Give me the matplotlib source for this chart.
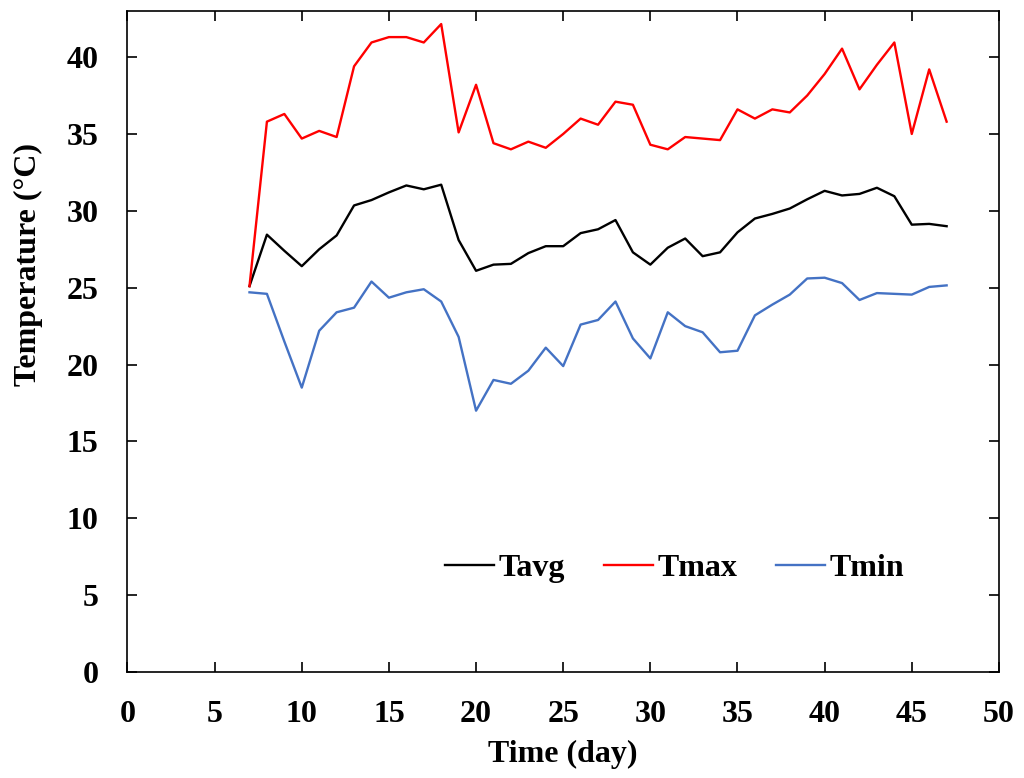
import matplotlib.pyplot as plt

plt.rcParams['font.family'] = ['Liberation Serif', 'DejaVu Serif']
plt.rcParams['font.weight'] = 'bold'

days = list(range(7, 48))

t_avg = [25.1, 28.45, 27.4, 26.4, 27.5, 28.4, 30.35, 30.7, 31.2, 31.65,
         31.4, 31.7, 28.1, 26.1, 26.5, 26.55, 27.25, 27.7, 27.7, 28.55,
         28.8, 29.4, 27.3, 26.5, 27.6, 28.2, 27.05, 27.3, 28.6, 29.5,
         29.8, 30.15, 30.75, 31.3, 31.0, 31.1, 31.5, 30.95, 29.1, 29.15,
         29.0]

t_max = [25.1, 35.8, 36.3, 34.7, 35.2, 34.8, 39.4, 40.95, 41.3, 41.3,
         40.95, 42.15, 35.1, 38.2, 34.4, 34.0, 34.5, 34.1, 35.0, 36.0,
         35.6, 37.1, 36.9, 34.3, 34.0, 34.8, 34.7, 34.6, 36.6, 36.0,
         36.6, 36.4, 37.5, 38.9, 40.55, 37.9, 39.5, 40.95, 35.0, 39.2,
         35.8]

t_min = [24.7, 24.6, 21.5, 18.5, 22.2, 23.4, 23.7, 25.4, 24.35, 24.7,
         24.9, 24.1, 21.8, 17.0, 19.0, 18.75, 19.6, 21.1, 19.9, 22.6,
         22.9, 24.1, 21.7, 20.4, 23.4, 22.5, 22.1, 20.8, 20.9, 23.2,
         23.9, 24.55, 25.6, 25.65, 25.3, 24.2, 24.65, 24.6, 24.55, 25.05,
         25.15]

fig = plt.figure(figsize=(10.24, 7.78), dpi=100)
ax = fig.add_axes([0.1245, 0.1362, 0.851, 0.8497])

ax.plot(days, t_avg, color='black', linewidth=1.7, label='Tavg')
ax.plot(days, t_max, color='#ff0000', linewidth=1.7, label='Tmax')
ax.plot(days, t_min, color='#4472c4', linewidth=1.7, label='Tmin')

ax.set_xlim(0, 50)
ax.set_ylim(0, 43)
ax.set_xticks(range(0, 51, 5))
ax.set_yticks(range(0, 41, 5))
ax.tick_params(direction='in', length=7, width=1.2, top=True, right=True,
               labelsize=23)
ax.tick_params(axis='y', pad=21)
ax.tick_params(axis='x', pad=20)
for s in ax.spines.values():
    s.set_linewidth(1.2)

ax.set_xlabel('Time (day)', fontsize=23, fontweight='bold')
ax.xaxis.set_label_coords(0.5, -0.103)
ax.set_ylabel('Temperature (°C)', fontsize=23, fontweight='bold')
ax.yaxis.set_label_coords(-0.1135, 0.616)
ax.yaxis.label.set_va('center')

ax.legend(loc='center', bbox_to_anchor=(0.628, 0.157), ncol=3, frameon=False,
          fontsize=23, handlelength=1.53, handletextpad=0.16, columnspacing=1.2)

fig.savefig('out.png', dpi=100)
